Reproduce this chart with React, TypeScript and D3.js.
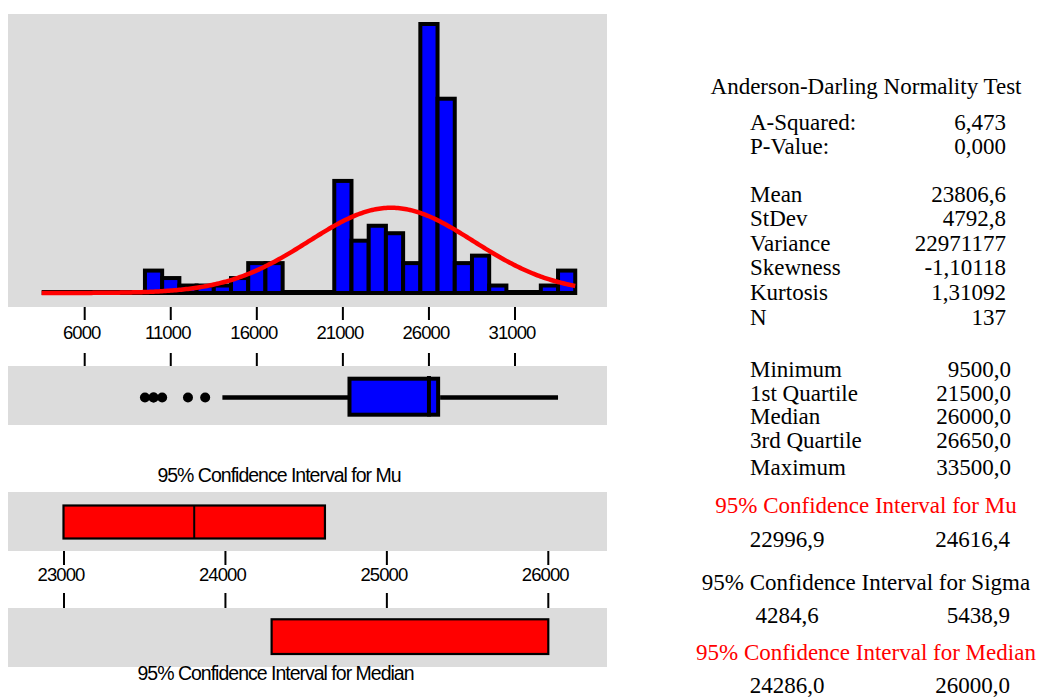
import React from "react";
import * as d3 from "d3";

// ---------- data ----------
const binMids = [10000, 11000, 12000, 13000, 14000, 15000, 16000, 17000, 18000, 19000, 20000, 21000, 22000, 23000, 24000, 25000, 26000, 27000, 28000, 29000, 30000, 31000, 32000, 33000, 34000];
const binCounts = [3, 2, 1, 1, 1, 2, 4, 4, 0, 0, 0, 15, 7, 9, 8, 4, 36, 26, 4, 5, 1, 0, 0, 1, 3];
const binWidth = 1000;
const histTicks = [6000, 11000, 16000, 21000, 26000, 31000];
const curveRange = [3500, 34500];

const outliers = [9500, 10000, 10000, 10500, 12000, 13000];
const whiskerLow = 14000;
const q1 = 21500;
const med = 26000;
const q3 = 26650;
const maxVal = 33500;

const meanVal = 23806.6;
const sdVal = 4792.8;
const nVal = 137;

const muCI = [22996.9, 24616.4];
const medianCI = [24286.0, 26000.0];
const ciTicks = [23000, 24000, 25000, 26000];

const statsBlock1 = [
  { label: "A-Squared:", value: "6,473" },
  { label: "P-Value:", value: "0,000" },
];
const statsBlock2 = [
  { label: "Mean", value: "23806,6" },
  { label: "StDev", value: "4792,8" },
  { label: "Variance", value: "22971177" },
  { label: "Skewness", value: "-1,10118" },
  { label: "Kurtosis", value: "1,31092" },
  { label: "N", value: "137" },
];
const statsBlock3 = [
  { label: "Minimum", value: "9500,0" },
  { label: "1st Quartile", value: "21500,0" },
  { label: "Median", value: "26000,0" },
  { label: "3rd Quartile", value: "26650,0" },
  { label: "Maximum", value: "33500,0" },
];
const ciTexts = [
  { title: "95% Confidence Interval for Mu", red: true, lo: "22996,9", hi: "24616,4" },
  { title: "95% Confidence Interval for Sigma", red: false, lo: "4284,6", hi: "5438,9" },
  { title: "95% Confidence Interval for Median", red: true, lo: "24286,0", hi: "26000,0" },
];

// ---------- styles ----------
const GRAY = "#dcdcdc";
const BLUE = "#0000ff";
const RED = "#ff0000";
const SANS = "'Liberation Sans', Arial, sans-serif";
const SERIF = "'Liberation Serif', 'Times New Roman', serif";

export default function App() {
  const W = 1039, H = 697;
  const x = d3.scaleLinear().domain([6000, 31000]).range([84.7, 515]);
  const y = d3.scaleLinear().domain([0, 36]).range([293, 24]);
  const xc = d3.scaleLinear().domain([23000, 26000]).range([64, 548.3]);

  const pdfScale = (nVal * binWidth) / (sdVal * Math.sqrt(2 * Math.PI));
  const curvePts: [number, number][] = d3.range(curveRange[0], curveRange[1] + 1, 100).map((v) => [
    v,
    pdfScale * Math.exp(-0.5 * ((v - meanVal) / sdVal) ** 2),
  ]);
  const line = d3.line<[number, number]>().x((d) => x(d[0])).y((d) => y(d[1]));

  const tickLabelStyle = { fontFamily: SANS, fontSize: 18.5, letterSpacing: -0.9 } as any;
  const titleStyle = { fontFamily: SANS, fontSize: 19.5, letterSpacing: -1 } as any;
  const serif = { fontFamily: SERIF, fontSize: 23 } as any;

  const boxY = 397.5;
  const rightCol = 1006;
  const rightCol2 = 1011;
  const labelX = 750;
  const centerX = 866;
  const loCenter = 787;
  const block3Y = [376.5, 400.5, 424, 447.5, 475];

  return (
    <svg width={W} height={H} style={{ position: "absolute", left: 0, top: 0, background: "#fff" }}>
      {/* Histogram panel */}
      <rect x={8} y={14} width={599} height={293} fill={GRAY} />
      <line x1={x(curveRange[0])} x2={x(curveRange[1])} y1={y(0) - 0.5} y2={y(0) - 0.5} stroke="#000" strokeWidth={5} />
      {binMids.map((m, i) =>
        binCounts[i] > 0 ? (
          <rect
            key={m}
            x={x(m - binWidth / 2)}
            y={y(binCounts[i])}
            width={x(m + binWidth / 2) - x(m - binWidth / 2)}
            height={y(0) - y(binCounts[i])}
            fill={BLUE}
            stroke="#000"
            strokeWidth={4}
          />
        ) : null
      )}
      <path d={line(curvePts) || ""} fill="none" stroke={RED} strokeWidth={4.5} strokeLinejoin="round" />

      {/* Histogram axis */}
      {histTicks.map((t) => (
        <g key={t}>
          <line x1={x(t)} x2={x(t)} y1={307} y2={320} stroke="#000" strokeWidth={2} />
          <line x1={x(t)} x2={x(t)} y1={353} y2={366} stroke="#000" strokeWidth={2} />
          <text x={x(t) - 3} y={339} textAnchor="middle" style={tickLabelStyle}>{t}</text>
        </g>
      ))}

      {/* Box plot panel */}
      <rect x={8} y={366} width={599} height={59} fill={GRAY} />
      <line x1={x(whiskerLow)} x2={x(q1)} y1={boxY} y2={boxY} stroke="#000" strokeWidth={4.5} />
      <line x1={x(q3)} x2={x(maxVal)} y1={boxY} y2={boxY} stroke="#000" strokeWidth={4.5} />
      <rect x={x(q1) - 2} y={378.7} width={x(q3) - x(q1)} height={36} fill={BLUE} stroke="#000" strokeWidth={4} />
      <line x1={x(med)} x2={x(med)} y1={376} y2={416.5} stroke="#000" strokeWidth={4} />
      {outliers.map((o, i) => (
        <circle key={i} cx={x(o)} cy={boxY} r={5} fill="#000" />
      ))}

      {/* CI for Mu */}
      <text x={279} y={482} textAnchor="middle" style={titleStyle}>95% Confidence Interval for Mu</text>
      <rect x={8} y={492} width={599} height={59} fill={GRAY} />
      <rect x={xc(muCI[0])} y={505.5} width={xc(muCI[1]) - xc(muCI[0])} height={33} fill={RED} stroke="#000" strokeWidth={2.2} />
      <line x1={xc(meanVal)} x2={xc(meanVal)} y1={505.5} y2={538.5} stroke="#000" strokeWidth={2} />

      {/* CI axis */}
      {ciTicks.map((t) => (
        <g key={t}>
          <line x1={xc(t)} x2={xc(t)} y1={551} y2={565} stroke="#000" strokeWidth={2} />
          <line x1={xc(t)} x2={xc(t)} y1={593} y2={608} stroke="#000" strokeWidth={2} />
          <text x={xc(t) - 3} y={581} textAnchor="middle" style={tickLabelStyle}>{t}</text>
        </g>
      ))}

      {/* CI for Median */}
      <rect x={8} y={608} width={599} height={59} fill={GRAY} />
      <rect x={xc(medianCI[0])} y={619.3} width={xc(medianCI[1]) - xc(medianCI[0])} height={34.7} fill={RED} stroke="#000" strokeWidth={2.2} />
      <text x={275.5} y={680} textAnchor="middle" style={titleStyle}>95% Confidence Interval for Median</text>

      {/* Stats text */}
      <text x={centerX} y={94} textAnchor="middle" style={serif}>Anderson-Darling Normality Test</text>
      {statsBlock1.map((s, i) => (
        <g key={s.label}>
          <text x={labelX} y={130 + i * 24} style={serif}>{s.label}</text>
          <text x={rightCol} y={130 + i * 24} textAnchor="end" style={serif}>{s.value}</text>
        </g>
      ))}
      {statsBlock2.map((s, i) => (
        <g key={s.label}>
          <text x={labelX} y={201.5 + i * 24.6} style={serif}>{s.label}</text>
          <text x={rightCol} y={201.5 + i * 24.6} textAnchor="end" style={serif}>{s.value}</text>
        </g>
      ))}
      {statsBlock3.map((s, i) => (
        <g key={s.label}>
          <text x={labelX} y={block3Y[i]} style={serif}>{s.label}</text>
          <text x={rightCol2} y={block3Y[i]} textAnchor="end" style={serif}>{s.value}</text>
        </g>
      ))}
      {ciTexts.map((c, i) => {
        const ty = [513, 590, 660][i];
        const vy = [546.5, 622.5, 693][i];
        return (
          <g key={c.title}>
            <text x={centerX} y={ty} textAnchor="middle" style={serif} fill={c.red ? RED : "#000"}>{c.title}</text>
            <text x={loCenter} y={vy} textAnchor="middle" style={serif}>{c.lo}</text>
            <text x={rightCol2 - 1} y={vy} textAnchor="end" style={serif}>{c.hi}</text>
          </g>
        );
      })}
    </svg>
  );
}
